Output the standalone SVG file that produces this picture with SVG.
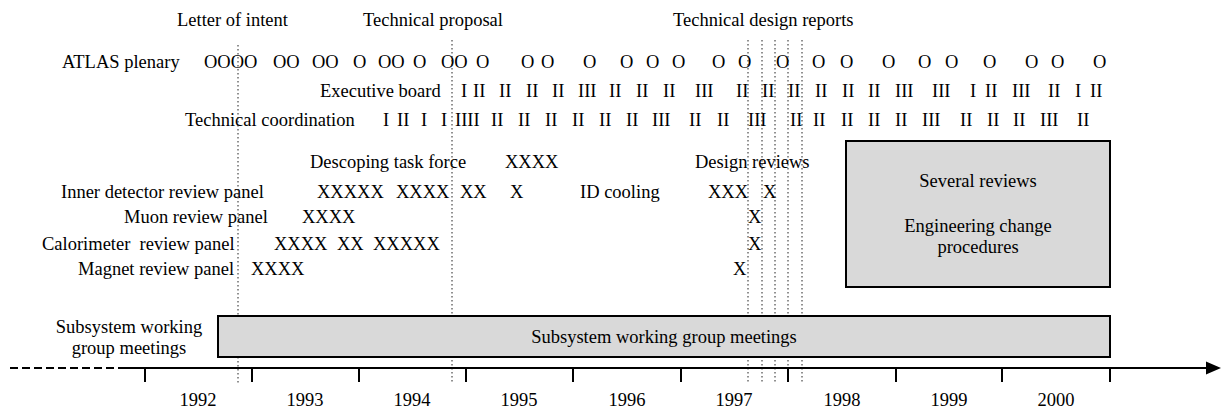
<svg xmlns="http://www.w3.org/2000/svg" width="1221" height="409" viewBox="0 0 1221 409">
  <style>
    .t { font-family: "Liberation Serif", "Times New Roman", serif; font-size: 18.5px; fill: #000; }
    .c { text-anchor: middle; }
    .dot { stroke: #222; stroke-width: 1; stroke-dasharray: 1.5 2.5; fill: none; }
    .box { fill: #d9d9d9; stroke: #000; stroke-width: 2; }
    .axis { stroke: #000; stroke-width: 2; fill: none; }
  </style>
  <rect width="1221" height="409" fill="#fff"/>

  <!-- milestone captions -->
  <g id="milestones">
    <text class="t" x="177" y="26">Letter of intent</text>
    <text class="t" x="363" y="26">Technical proposal</text>
    <text class="t" x="673" y="26">Technical design reports</text>
  </g>

  <!-- plenary meetings -->
  <g id="atlas-plenary">
    <text class="t" x="62" y="68">ATLAS plenary</text>
    <text class="t" y="68"><tspan x="204">OOOO</tspan><tspan x="273">OO</tspan><tspan x="312">OO</tspan><tspan x="353">O</tspan><tspan x="378">OO</tspan><tspan x="413">O</tspan><tspan x="441">OO</tspan><tspan x="476">O</tspan><tspan x="521">O</tspan><tspan x="541">O</tspan><tspan x="583">O</tspan><tspan x="620">O</tspan><tspan x="646">O</tspan><tspan x="672">O</tspan><tspan x="712">O</tspan><tspan x="738">O</tspan><tspan x="776">O</tspan><tspan x="812">O</tspan><tspan x="840">O</tspan><tspan x="882">O</tspan><tspan x="918">O</tspan><tspan x="945">O</tspan><tspan x="983">O</tspan><tspan x="1025">O</tspan><tspan x="1051">O</tspan><tspan x="1093">O</tspan></text>
  </g>

  <!-- executive board meetings -->
  <g id="executive-board">
    <text class="t" x="320" y="97">Executive board</text>
    <text class="t" y="97"><tspan x="461">I</tspan><tspan x="473">II</tspan><tspan x="499">II</tspan><tspan x="526">II</tspan><tspan x="552">II</tspan><tspan x="578">III</tspan><tspan x="609">II</tspan><tspan x="636">II</tspan><tspan x="663">II</tspan><tspan x="695">III</tspan><tspan x="736">II</tspan><tspan x="762">II</tspan><tspan x="788">II</tspan><tspan x="815">II</tspan><tspan x="842">II</tspan><tspan x="868">II</tspan><tspan x="895">III</tspan><tspan x="932">III</tspan><tspan x="970">I</tspan><tspan x="985">II</tspan><tspan x="1012">III</tspan><tspan x="1048">II</tspan><tspan x="1075">I</tspan><tspan x="1090">II</tspan></text>
  </g>

  <!-- technical coordination meetings -->
  <g id="technical-coordination">
    <text class="t" x="185" y="126">Technical coordination</text>
    <text class="t" y="126"><tspan x="383">I</tspan><tspan x="397">II</tspan><tspan x="421">I</tspan><tspan x="441">I</tspan><tspan x="455">IIII</tspan><tspan x="491">II</tspan><tspan x="518">II</tspan><tspan x="545">II</tspan><tspan x="572">II</tspan><tspan x="599">II</tspan><tspan x="626">II</tspan><tspan x="652">III</tspan><tspan x="689">II</tspan><tspan x="717">II</tspan><tspan x="748">III</tspan><tspan x="790">II</tspan><tspan x="813">II</tspan><tspan x="841">II</tspan><tspan x="868">II</tspan><tspan x="895">II</tspan><tspan x="922">III</tspan><tspan x="960">II</tspan><tspan x="987">II</tspan><tspan x="1013">II</tspan><tspan x="1040">III</tspan><tspan x="1077">II</tspan></text>
  </g>

  <!-- descoping task force -->
  <g id="descoping">
    <text class="t" x="310" y="168">Descoping task force</text>
    <text class="t" x="505" y="168">XXXX</text>
  </g>

  <!-- review panels -->
  <g id="inner-detector-panel">
    <text class="t" x="61" y="198">Inner detector review panel</text>
    <text class="t" y="198"><tspan x="317">XXXXX</tspan><tspan x="396">XXXX</tspan><tspan x="460">XX</tspan><tspan x="510">X</tspan></text>
    <text class="t" x="580" y="198">ID cooling</text>
    <text class="t" y="198"><tspan x="708">XXX</tspan><tspan x="763">X</tspan></text>
  </g>

  <g id="design-reviews">
    <text class="t" x="695" y="168">Design reviews</text>
  </g>

  <g id="muon-panel">
    <text class="t" x="124" y="223">Muon review panel</text>
    <text class="t" x="302" y="223">XXXX</text>
    <text class="t" x="748" y="223">X</text>
  </g>

  <g id="calorimeter-panel">
    <text class="t" x="42" y="250" xml:space="preserve">Calorimeter  review panel</text>
    <text class="t" y="250"><tspan x="274">XXXX</tspan><tspan x="337">XX</tspan><tspan x="373">XXXXX</tspan></text>
    <text class="t" x="748" y="250">X</text>
  </g>

  <g id="magnet-panel">
    <text class="t" x="78" y="275">Magnet review panel</text>
    <text class="t" x="251" y="275">XXXX</text>
    <text class="t" x="733" y="275">X</text>
  </g>

  <!-- milestone markers -->
  <g id="connectors">
    <line class="dot" x1="238" y1="45" x2="238" y2="383"/>
    <line class="dot" x1="452" y1="40" x2="452" y2="383"/>
    <line class="dot" x1="748" y1="40" x2="748" y2="383"/>
    <line class="dot" x1="762" y1="40" x2="762" y2="383"/>
    <line class="dot" x1="775" y1="40" x2="775" y2="383"/>
    <line class="dot" x1="788" y1="40" x2="788" y2="383"/>
    <line class="dot" x1="802" y1="40" x2="802" y2="383"/>
  </g>

  <!-- post-TDR phase -->
  <g id="several-reviews">
    <rect class="box" x="846" y="141" width="264" height="146"/>
    <text class="t c" x="978" y="187">Several reviews</text>
    <text class="t c" x="978" y="232">Engineering change</text>
    <text class="t c" x="978" y="253">procedures</text>
  </g>

  <!-- subsystem working groups -->
  <g id="subsystem-label">
    <text class="t c" x="129" y="333">Subsystem working</text>
    <text class="t c" x="129" y="354">group meetings</text>
  </g>
  <g id="subsystem-bar">
    <rect class="box" x="218" y="316" width="892" height="41"/>
    <text class="t c" x="664" y="343">Subsystem working group meetings</text>
  </g>

  <!-- time axis -->
  <g id="time-axis">
    <line class="axis" x1="10" y1="368" x2="118" y2="368" stroke-dasharray="8 4"/>
    <line class="axis" x1="118" y1="368" x2="1208" y2="368"/>
    <path d="M1221,368 L1206,361.5 L1206,374.5 Z" fill="#000"/>
    <path class="axis" d="M145,368V382M252,368V382M359,368V382M466,368V382M573,368V382M681,368V382M788,368V382M896,368V382M1002,368V382M1110,368V382"/>
    <text class="t c" x="198" y="406">1992</text>
    <text class="t c" x="305" y="406">1993</text>
    <text class="t c" x="412" y="406">1994</text>
    <text class="t c" x="519" y="406">1995</text>
    <text class="t c" x="627" y="406">1996</text>
    <text class="t c" x="734" y="406">1997</text>
    <text class="t c" x="842" y="406">1998</text>
    <text class="t c" x="949" y="406">1999</text>
    <text class="t c" x="1056" y="406">2000</text>
  </g>
</svg>
